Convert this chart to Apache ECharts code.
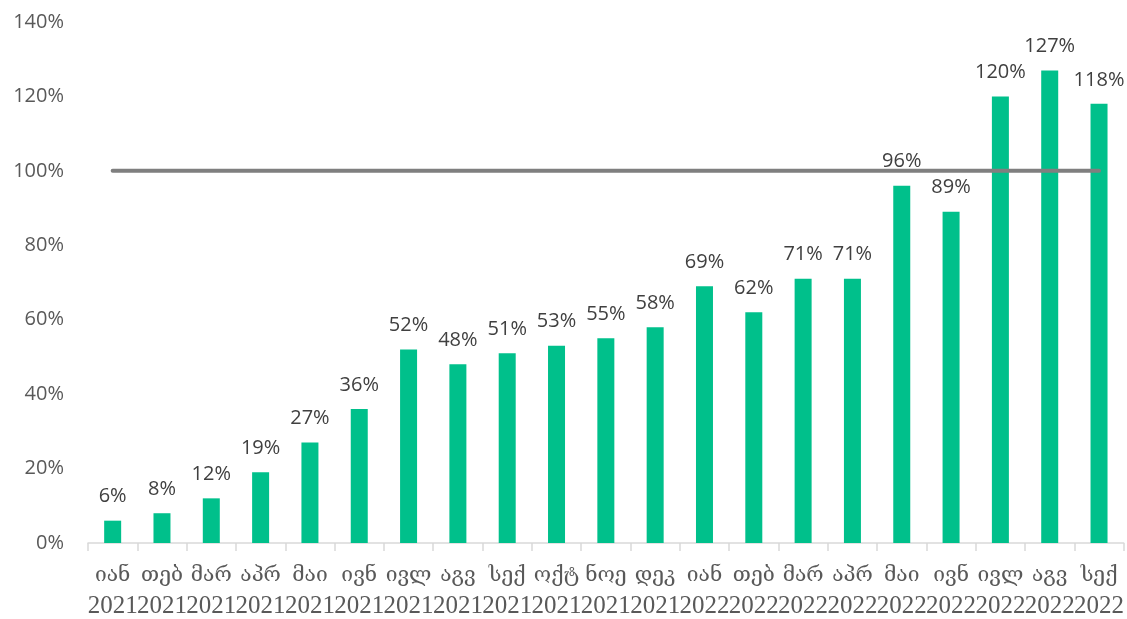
<!DOCTYPE html>
<html>
<head>
<meta charset="utf-8">
<script src="https://cdn.jsdelivr.net/npm/echarts@6/dist/echarts.min.js"></script>
<style>
  html, body { margin: 0; padding: 0; background: #ffffff; }
  #chart { width: 1127px; height: 619px; }
</style>
</head>
<body>
<div id="chart"></div>
<script>
// Monthly ratio (%), Jan 2021 – Sep 2022
const months = ['იან', 'თებ', 'მარ', 'აპრ', 'მაი', 'ივნ', 'ივლ', 'აგვ', 'სექ', 'ოქტ', 'ნოე', 'დეკ',
                'იან', 'თებ', 'მარ', 'აპრ', 'მაი', 'ივნ', 'ივლ', 'აგვ', 'სექ'];
const years = ['2021', '2021', '2021', '2021', '2021', '2021', '2021', '2021', '2021', '2021', '2021', '2021',
               '2022', '2022', '2022', '2022', '2022', '2022', '2022', '2022', '2022'];
const ratio = [6, 8, 12, 19, 27, 36, 52, 48, 51, 53, 55, 58, 69, 62, 71, 71, 96, 89, 120, 127, 118];
const target = 100;

const categories = months.map((m, i) => m + '|' + years[i]);
const targetLine = categories.map(() => target);

const chart = echarts.init(document.getElementById('chart'), null, { renderer: 'canvas' });
chart.setOption({
  animation: false,
  grid: { left: 88, right: 2, top: 22, bottom: 76 },
  xAxis: {
    type: 'category',
    data: categories,
    boundaryGap: true,
    axisLine: { lineStyle: { color: '#d9d9d9', width: 1.5 } },
    axisTick: { show: true, length: 8, lineStyle: { color: '#d9d9d9', width: 1.5 } },
    axisLabel: {
      interval: 0,
      margin: 18,
      formatter: (v) => {
        const [m, y] = v.split('|');
        return '{m|' + m + '}\n{y|' + y + '}';
      },
      rich: {
        m: {
          fontSize: 21,
          lineHeight: 30,
          color: '#595959',
          fontFamily: 'DejaVu Serif, serif'
        },
        y: {
          fontSize: 25,
          lineHeight: 30,
          color: '#595959',
          fontFamily: 'Liberation Serif, DejaVu Serif, serif'
        }
      }
    }
  },
  yAxis: {
    type: 'value',
    min: 0,
    max: 140,
    interval: 20,
    axisLine: { show: false },
    axisTick: { show: false },
    splitLine: { show: false },
    axisLabel: {
      formatter: '{value}%',
      color: '#595959',
      fontSize: 20,
      margin: 24,
      fontFamily: 'Open Sans, Liberation Sans, sans-serif'
    }
  },
  series: [
    {
      type: 'bar',
      data: ratio,
      barWidth: 17,
      itemStyle: { color: '#00c08b' },
      label: {
        show: true,
        position: 'top',
        distance: 14,
        formatter: '{c}%',
        color: '#404040',
        fontSize: 20,
        fontFamily: 'Open Sans, Liberation Sans, sans-serif'
      },
      z: 2
    },
    {
      type: 'line',
      data: targetLine,
      symbol: 'none',
      lineStyle: { color: '#7f7f7f', width: 4, cap: 'round' },
      z: 3
    }
  ]
});
</script>
</body>
</html>
